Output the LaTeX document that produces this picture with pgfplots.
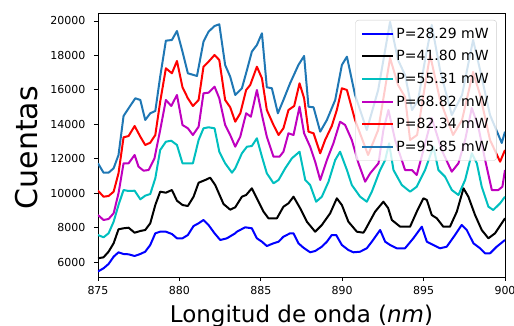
\documentclass[border=0pt]{standalone}
\usepackage{pgfplots}
\pgfplotsset{compat=1.18}
\usepackage{fontspec}
\setmainfont{DejaVu Sans}
\definecolor{mplblue}{RGB}{31,119,180}
\definecolor{mplc}{RGB}{0,191,191}
\definecolor{mplm}{RGB}{191,0,191}
\begin{document}
\begin{tikzpicture}
\begin{axis}[
  name=ax,
  width=407pt, height=264pt, scale only axis,
  xmin=875, xmax=900, ymin=5129, ymax=20464,
  xtick={875,880,...,900},
  ytick={6000,8000,...,20000},
  scaled y ticks=false, scaled x ticks=false,
  tick align=outside, major tick length=4pt,
  tick style={black, line width=0.8pt},
  xtick pos=bottom, ytick pos=left,
  axis line style={black, line width=0.8pt},
  /pgf/number format/assume math mode=true,
  /pgf/number format/set thousands separator={},
  ticklabel style={font=\fontsize{11}{13}\selectfont},
  yticklabel style={xshift=-5pt},
  xticklabel style={yshift=-1.5pt},
  xlabel={Longitud de onda (\textit{nm})},
  xlabel style={font=\fontsize{23}{27}\selectfont, at={(axis description cs:0.5,0)}, anchor=base, yshift=-46pt},
  ylabel={Cuentas},
  ylabel style={font=\fontsize{30}{36}\selectfont, at={(axis description cs:-0.175,0.49)}, anchor=center, rotate=0},
  legend cell align=left,
  legend image code/.code={\draw[#1] (0pt,0pt) -- (31pt,0pt);},
  legend style={at={(0.980,0.9735)}, anchor=north east, font=\fontsize{14}{16}\selectfont,
    draw=black!20, fill=white, fill opacity=0.8, text opacity=1, draw opacity=1,
    rounded corners=3pt, inner xsep=6pt, inner ysep=5.5pt, row sep=6.8pt},
  every axis plot post/.append style={line width=2pt, line join=round},
]
\addplot[blue] coordinates {
(875.00,5450) (875.34,5634) (875.65,5884) (875.96,6308) (876.26,6563) (876.57,6465) (876.88,6447)
(877.25,6349) (877.60,6465) (877.90,6598) (878.21,6988) (878.52,7667) (878.82,7760) (879.17,7760)
(879.54,7627) (879.85,7377) (880.19,7377) (880.52,7568) (880.87,8091) (881.18,8248) (881.48,8440)
(881.79,8149) (882.16,7667) (882.51,7278) (882.92,7377) (883.43,7667) (883.53,7760) (884.04,8016)
(884.45,7958) (884.76,7377) (885.07,7179) (885.37,6929) (885.78,7086) (886.09,7179) (886.39,7470)
(886.80,7667) (887.01,7667) (887.31,7086) (887.62,6831) (888.03,6563) (888.34,6639) (888.75,6889)
(889.06,7179) (889.36,7568) (889.63,7568) (889.98,6988) (890.38,6697) (890.69,6563) (891.10,6598)
(891.51,6796) (891.82,7179) (892.33,7859) (892.64,7179) (892.94,6988) (893.35,6796) (893.86,6796)
(894.37,7377) (894.89,8051) (895.20,7179) (895.60,6988) (896.01,6796) (896.42,6889) (896.93,7568)
(897.34,8149) (897.65,7859) (898.06,7086) (898.47,6796) (898.78,6505) (899.08,6505) (899.49,6889)
(900.00,7278)
};
\addplot[black] coordinates {
(875.00,6215) (875.34,6273) (875.65,6598) (875.96,7086) (876.26,7900) (876.57,7958) (876.88,7993)
(877.25,7702) (877.60,7801) (877.90,7859) (878.21,8248) (878.52,9311) (878.82,10084) (879.17,10026)
(879.54,10182) (879.85,9561) (880.19,9311) (880.52,9253) (880.87,9793) (881.18,10607) (881.59,10763)
(881.89,10897) (882.20,10473) (882.71,9369) (883.12,9040) (883.43,9178) (883.84,9793) (884.10,9892)
(884.45,10281) (884.76,9700) (885.17,8922) (885.47,8539) (885.99,8539) (886.39,9212) (886.70,9410)
(887.01,9793) (887.42,9119) (887.83,8341) (888.34,7760) (888.75,8149) (889.26,8829) (889.67,9700)
(889.98,9311) (890.38,8341) (890.90,7760) (891.30,7702) (891.41,7859) (892.02,8922) (892.53,9503)
(892.82,9137) (893.05,8440) (893.56,8051) (894.17,8051) (894.58,8922) (894.99,9700) (895.20,9602)
(895.50,8730) (895.81,8539) (896.21,8051) (896.62,8051) (897.04,8922) (897.45,10281) (897.75,9793)
(898.16,8730) (898.57,7859) (898.98,7377) (899.39,7667) (899.80,8248) (900.00,8539)
};
\addplot[mplc] coordinates {
(875.00,7568) (875.34,7435) (875.65,7667) (875.96,8341) (876.26,9311) (876.57,10182) (876.88,10124)
(877.25,10142) (877.60,9642) (877.90,9851) (878.21,9950) (878.52,10862) (878.82,12506) (879.17,12988)
(879.50,13046) (879.85,12797) (880.19,11734) (880.52,11734) (880.83,11734) (881.18,13087) (881.48,13767)
(881.79,13825) (882.16,13767) (882.45,12407) (882.81,11734) (883.23,11188) (883.43,11443) (883.84,12315)
(884.15,12698) (884.45,12738) (884.76,13186) (885.07,12117) (885.37,11153) (885.78,10572) (886.09,10763)
(886.50,11443) (886.91,12024) (887.38,12407) (887.73,10763) (888.03,10473) (888.40,9503) (888.75,9793)
(889.16,10665) (889.57,11925) (889.87,12407) (890.29,11344) (890.59,10473) (891.10,9793) (891.51,9503)
(891.82,10084) (892.33,11344) (892.64,11925) (892.88,12895) (893.15,11344) (893.66,10473) (894.17,10084)
(894.58,10374) (895.09,11344) (895.60,12698) (895.91,11344) (896.32,10955) (896.73,10182) (897.14,9892)
(897.55,10763) (897.96,12315) (898.27,11734) (898.57,10374) (898.98,9212) (899.28,9021) (899.70,9410)
(900.00,9793)
};
\addplot[mplm] coordinates {
(875.00,8730) (875.34,8440) (875.65,8498) (875.96,8829) (876.26,9991) (876.57,11734) (876.88,11734)
(877.25,12216) (877.49,11536) (877.80,11304) (878.11,11344) (878.47,12024) (878.82,13668) (879.17,15411)
(879.50,15062) (879.85,15701) (880.19,13958) (880.52,13767) (880.83,13377) (881.18,13860) (881.48,15800)
(881.79,15835) (882.16,16183) (882.45,15510) (882.81,13958) (883.12,13377) (883.43,12698) (883.74,13279)
(884.10,14638) (884.39,14441) (884.76,15991) (885.07,14539) (885.37,13279) (885.78,12117) (886.15,12117)
(886.39,12407) (886.70,13476) (887.01,13377) (887.38,15021) (887.66,13476) (888.03,12698) (888.34,11826)
(888.65,10763) (889.06,11925) (889.46,12895) (889.87,14150) (890.18,13958) (890.59,13087) (891.00,11734)
(891.41,10665) (891.72,11153) (892.23,11734) (892.53,13668) (892.84,14830) (893.25,13087) (893.86,11344)
(894.28,11344) (894.58,11054) (894.99,12506) (895.50,14365) (896.11,12506) (896.73,11246) (897.14,11734)
(897.55,13087) (897.96,14946) (898.36,13860) (898.78,11925) (899.19,10182) (899.59,10182) (899.84,10374)
(900.00,11344)
};
\addplot[red] coordinates {
(875.00,10142) (875.34,9793) (875.65,9834) (875.96,10084) (876.26,11153) (876.57,13244) (876.88,13319)
(877.25,13900) (877.60,13279) (877.90,12797) (878.21,12930) (878.52,13377) (878.82,15312) (879.17,17252)
(879.54,16962) (879.85,17676) (880.19,16148) (880.52,15510) (880.83,15062) (881.18,15411) (881.48,17345)
(881.79,17636) (882.16,18025) (882.45,17734) (882.81,15411) (883.12,14987) (883.43,14150) (883.74,14638)
(884.10,15991) (884.35,16282) (884.76,17345) (885.07,16671) (885.37,14830) (885.78,13958) (886.09,13377)
(886.39,13767) (886.70,14830) (887.05,15062) (887.38,16381) (887.66,15510) (887.93,13569) (888.24,13476)
(888.65,12315) (888.95,13087) (889.36,13900) (889.67,14830) (889.98,16091) (890.29,15991) (890.79,14249)
(891.59,12216) (892.21,13668) (892.94,17850) (893.43,16282) (893.86,15585) (894.17,13087) (894.60,13377)
(895.09,16282) (895.40,18025) (896.01,15411) (896.81,13377) (897.36,14249) (898.04,17037) (898.47,15701)
(899.08,13087) (899.70,11826) (900.00,12506)
};
\addplot[mplblue] coordinates {
(875.00,11734) (875.34,11188) (875.65,11188) (875.96,11443) (876.26,12216) (876.57,14481) (876.88,14929)
(877.29,15510) (877.60,15411) (877.90,14249) (878.21,14638) (878.52,14772) (878.82,16764) (879.17,18855)
(879.54,18896) (879.85,19419) (880.19,18217) (880.52,16962) (881.08,16805) (881.48,18797) (881.79,19378)
(882.16,19709) (882.45,19808) (882.81,17443) (883.12,16764) (883.43,15701) (883.84,16091) (884.15,17153)
(884.45,18217) (884.76,18606) (885.07,19285) (885.37,16149) (885.68,16091) (886.05,14638) (886.39,15411)
(886.80,16381) (887.31,17444) (887.66,17967) (887.93,15021) (888.24,14987) (888.65,13569) (889.06,14249)
(889.57,15411) (889.98,17444) (890.29,17926) (890.79,15701) (891.51,13668) (892.21,15991) (892.94,19950)
(893.43,17734) (893.86,16863) (894.29,14830) (894.66,15411) (895.09,17734) (895.50,19767) (896.01,17153)
(896.73,14539) (897.36,15701) (898.04,18900) (898.47,17153) (899.08,14539) (899.80,12913) (900.00,13569)
};
\legend{P=28.29 mW, P=41.80 mW, P=55.31 mW, P=68.82 mW, P=82.34 mW, P=95.85 mW}
\end{axis}
\pgfresetboundingbox
\path[use as bounding box] ([xshift=-98pt,yshift=-49pt]ax.south west) rectangle ([xshift=9pt,yshift=13pt]ax.north east);
\end{tikzpicture}
\end{document}
